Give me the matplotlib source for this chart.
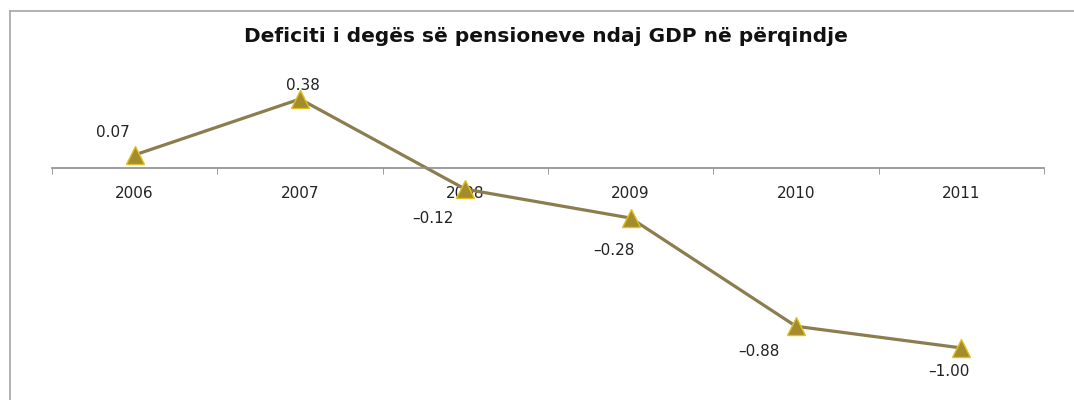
import matplotlib.pyplot as plt
from matplotlib.lines import Line2D

# --- Data ---
years = ["2006", "2007", "2008", "2009", "2010", "2011"]
deficit = [0.07, 0.38, -0.12, -0.28, -0.88, -1.00]
value_labels = ["0.07", "0.38", "-0.12", "-0.28", "-0.88", "-1.00"]

TITLE = "Deficiti i degës së pensioneve ndaj GDP në përqindje"

# --- Plot ---
fig = plt.figure(figsize=(10.74, 4.0), dpi=100)
fig.patch.set_facecolor("white")

# outer chart frame (left + top edges visible)
fig.add_artist(Line2D([10/1074, 10/1074], [0, 1 - 11/400], color="#a6a6a6", linewidth=1.2))
fig.add_artist(Line2D([10/1074, 1], [1 - 11/400, 1 - 11/400], color="#a6a6a6", linewidth=1.2))

ax = fig.add_axes([52/1074, 0.04, 992/1074, 0.744])
x = list(range(len(years)))

ax.plot(x, deficit, color="#8b7d4e", linewidth=2.3, zorder=2)
ax.plot(x, deficit, linestyle="none", marker="^", markersize=13,
        markerfacecolor="#a38b2e", markeredgecolor="#e0c020", markeredgewidth=1.0, zorder=3)

# data labels (offsets in points)
offsets = [(-16, 16), (2, 10), (-23, -21), (-12, -23), (-27, -18), (-9, -17)]
for xi, yi, lab, off in zip(x, deficit, value_labels, offsets):
    ax.annotate(lab.replace("-", "\u2013"), (xi, yi), xytext=off, textcoords="offset points",
                ha="center", va="center", fontsize=11, color="#222222")

ax.set_xlim(-0.5, len(years) - 0.5)
ax.set_ylim(-1.2, 0.45)

# category axis through zero
for s in ["top", "right", "left"]:
    ax.spines[s].set_visible(False)
ax.spines["bottom"].set_position(("data", 0))
ax.spines["bottom"].set_color("#8c8c8c")
ax.spines["bottom"].set_linewidth(1.2)
ax.set_yticks([])

ax.set_xticks(x)
ax.set_xticklabels(years, fontsize=11, color="#222222")
ax.tick_params(axis="x", which="major", length=0, pad=13)
ax.set_xticks([i - 0.5 for i in range(len(years) + 1)], minor=True)
ax.tick_params(axis="x", which="minor", length=4, color="#8c8c8c", direction="out")

fig.text(546/1074, 1 - 36/400, TITLE, ha="center", va="center",
         fontsize=14.5, fontweight="bold", color="#111111")

fig.savefig("out.png", dpi=100, facecolor="white")
